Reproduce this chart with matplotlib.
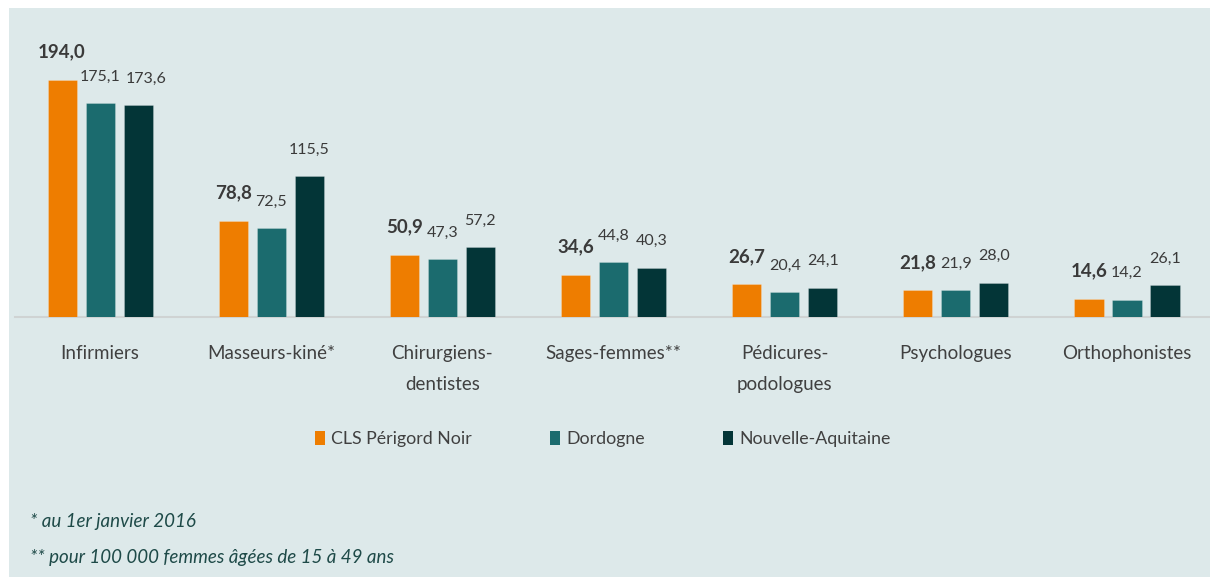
import matplotlib
matplotlib.use("Agg")
import matplotlib.pyplot as plt
from matplotlib.patches import Rectangle, Patch
import numpy as np

plt.rcParams['font.family'] = ['Lato', 'DejaVu Sans']

# data
categories = ["Infirmiers", "Masseurs-kiné*", "Chirurgiens-\ndentistes", "Sages-femmes**",
              "Pédicures-\npodologues", "Psychologues", "Orthophonistes"]
series = ["CLS Périgord Noir", "Dordogne", "Nouvelle-Aquitaine"]
cls_vals = [194.0, 78.8, 50.9, 34.6, 26.7, 21.8, 14.6]
dordogne_vals = [175.1, 72.5, 47.3, 44.8, 20.4, 21.9, 14.2]
na_vals = [173.6, 115.5, 57.2, 40.3, 24.1, 28.0, 26.1]
colors = ["#EE7D00", "#1B6B6E", "#033537"]

fig = plt.figure(figsize=(12.1, 5.77), dpi=100, facecolor="white")
# background panel
fig.patches.append(Rectangle((9 / 1210, 0), 1, 1 - 8 / 577, transform=fig.transFigure,
                             facecolor="#DDE9EA", edgecolor="none", zorder=-5))

ax = fig.add_axes([15 / 1210, 260 / 577, 1195 / 1210, 309 / 577])
ax.set_facecolor("none")
ax.set_zorder(2)

x = np.arange(len(categories))
w = 0.17
off = 0.222
for k, vals in enumerate([cls_vals, dordogne_vals, na_vals]):
    xs = x + (k - 1) * off
    ax.bar(xs, vals, width=w, color=colors[k], edgecolor="#ffffff40", linewidth=0.6, zorder=3)
    for i, (xi, v) in enumerate(zip(xs, vals)):
        lab = f"{v:.1f}".replace(".", ",")
        if k == 0:
            ax.annotate(lab, (xi, v), xytext=(0, 14), textcoords="offset points",
                        ha="center", va="bottom", fontsize=13.5, fontweight="bold", color="#3a3a3a")
        else:
            # Excel nudged the first group's last label to the right
            dx = 6 if (k == 2 and i == 0) else 0
            ax.annotate(lab, (xi, v), xytext=(dx, 14), textcoords="offset points",
                        ha="center", va="bottom", fontsize=11.5, color="#3a3a3a")

ax.set_xlim(-0.497, 6.485)
ax.set_ylim(0, 252.9)
ax.set_yticks([])
ax.set_xticks(x)
ax.set_xticklabels(categories, fontsize=13.5, color="#404040", linespacing=2.0, va="top")
ax.tick_params(axis="x", length=0, pad=20)
for s in ["top", "right", "left"]:
    ax.spines[s].set_visible(False)
ax.spines["bottom"].set_color("#cfd3d3")
ax.spines["bottom"].set_linewidth(1.5)

handles = [Patch(facecolor=c, edgecolor="none") for c in colors]
fig.legend(handles, series, loc="center", bbox_to_anchor=(603 / 1210, 1 - 439 / 577), ncol=3,
           frameon=False, fontsize=12.8, handlelength=0.55, handleheight=0.8, handletextpad=0.35,
           columnspacing=4.4, labelcolor="#404040")

fig.text(30 / 1210, 1 - 522 / 577, "* au 1er janvier 2016", fontsize=13.5, style="italic",
         color="#1E4A48", va="center")
fig.text(30 / 1210, 1 - 557 / 577, "** pour 100 000 femmes âgées de 15 à 49 ans", fontsize=13.5,
         style="italic", color="#1E4A48", va="center")

fig.savefig("out.png", dpi=100, facecolor="white")
